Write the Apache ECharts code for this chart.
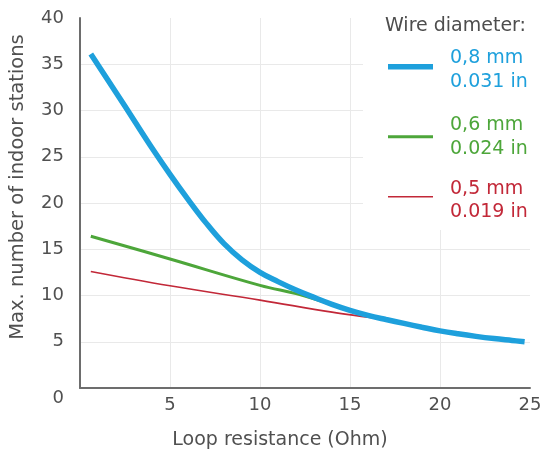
<!DOCTYPE html>
<html>
<head>
<meta charset="utf-8">
<script src="https://cdn.jsdelivr.net/npm/echarts@6/dist/echarts.min.js"></script>
<style>html,body{margin:0;padding:0;background:#fff}#c{width:550px;height:455px}</style>
</head>
<body>
<div id="c"></div>
<script>
// ---- data ----
const xAxisTitle = 'Loop resistance (Ohm)';
const yAxisTitle = 'Max. number of indoor stations';
const legendTitle = 'Wire diameter:';
const seriesNames = ['0,8 mm', '0,6 mm', '0,5 mm'];
const seriesInches = ['0.031 in', '0.024 in', '0.019 in'];
const seriesColors = ['#1ea0dc', '#4da63a', '#c22838'];

const blueX = [0.6, 2, 3, 4, 5, 6, 7, 8, 9, 10, 11, 12, 13, 14, 15, 16, 17, 18, 19, 20, 21, 22, 23, 24, 24.7];
const blueY = [36.1, 31.95, 28.95, 25.95, 23.1, 20.4, 17.85, 15.6, 13.85, 12.5, 11.5, 10.6, 9.8, 9.05, 8.4, 7.85, 7.4, 6.98, 6.57, 6.18, 5.86, 5.58, 5.34, 5.14, 5.0];
const greenX = [0.6, 5, 10, 12, 13, 14];
const greenY = [16.4, 13.95, 11.1, 10.2, 9.65, 9.05];
const redX = [0.6, 5, 10, 14, 16, 17];
const redY = [12.6, 11.05, 9.5, 8.2, 7.65, 7.35];

const pairs = (xs, ys) => xs.map((x, i) => [x, ys[i]]);

const FONT = 'DejaVu Sans';
const TXT = '#505050';
const chart = echarts.init(document.getElementById('c'), null, {renderer: 'canvas'});

const legendRows = [
  {lineY: 66.7, w: 5.5, t1: 58.3, t2: 81.7},
  {lineY: 136.7, w: 3, t1: 125, t2: 149},
  {lineY: 196.7, w: 1.6, t1: 189.3, t2: 211.7}
];
const graphics = [
  {type: 'rect', z: 1, shape: {x: 363, y: 0, width: 187, height: 230}, style: {fill: '#ffffff'}},
  {type: 'text', z: 5, x: 385, y: 26, style: {text: legendTitle, font: '19px "' + FONT + '"', fill: '#4d4d4d', verticalAlign: 'middle'}}
];
legendRows.forEach((r, i) => {
  graphics.push({type: 'line', z: 5, shape: {x1: 388, y1: r.lineY, x2: 433, y2: r.lineY}, style: {stroke: seriesColors[i], lineWidth: r.w}});
  graphics.push({type: 'text', z: 5, x: 450, y: r.t1, style: {text: seriesNames[i], font: '19px "' + FONT + '"', fill: seriesColors[i], verticalAlign: 'middle'}});
  graphics.push({type: 'text', z: 5, x: 450, y: r.t2, style: {text: seriesInches[i], font: '19px "' + FONT + '"', fill: seriesColors[i], verticalAlign: 'middle'}});
});

chart.setOption({
  animation: false,
  textStyle: {fontFamily: FONT},
  grid: {left: 78, right: 20, top: 18, bottom: 66, containLabel: false},
  xAxis: {
    type: 'value', min: 0, max: 25, interval: 5,
    name: xAxisTitle, nameLocation: 'middle', nameGap: 43,
    nameTextStyle: {color: TXT, fontSize: 19, fontFamily: FONT, padding: [0, 50, 0, 0]},
    axisLine: {show: true, lineStyle: {color: '#6d6d6d', width: 2}},
    axisTick: {show: false},
    axisLabel: {color: TXT, fontSize: 18, fontFamily: FONT, margin: 8, showMinLabel: false},
    splitLine: {show: true, showMinLine: false, showMaxLine: false, lineStyle: {color: '#e9e9e9', width: 1}}
  },
  yAxis: {
    type: 'value', min: 0, max: 40, interval: 5,
    name: yAxisTitle, nameLocation: 'middle', nameGap: 52,
    nameTextStyle: {color: TXT, fontSize: 19.5, fontFamily: FONT, padding: [0, 0, 0, 32]},
    axisLine: {show: true, lineStyle: {color: '#6d6d6d', width: 2}},
    axisTick: {show: false},
    axisLabel: {
      color: TXT, fontSize: 18, fontFamily: FONT, margin: 16,
      formatter: v => v === 0 ? '{z|0}' : String(v),
      rich: {z: {color: TXT, fontSize: 18, fontFamily: FONT, padding: [20, 0, 0, 0]}}
    },
    splitLine: {show: true, showMinLine: false, showMaxLine: false, lineStyle: {color: '#e9e9e9', width: 1}}
  },
  graphic: graphics,
  series: [
    {name: seriesNames[2], type: 'line', data: pairs(redX, redY), showSymbol: false, symbol: 'none', smooth: 0.4,
     lineStyle: {color: seriesColors[2], width: 1.6}, z: 2},
    {name: seriesNames[1], type: 'line', data: pairs(greenX, greenY), showSymbol: false, symbol: 'none', smooth: 0.4,
     lineStyle: {color: seriesColors[1], width: 3}, z: 3},
    {name: seriesNames[0], type: 'line', data: pairs(blueX, blueY), showSymbol: false, symbol: 'none', smooth: 0.4,
     lineStyle: {color: seriesColors[0], width: 5.5}, z: 4}
  ]
});
</script>
</body>
</html>
